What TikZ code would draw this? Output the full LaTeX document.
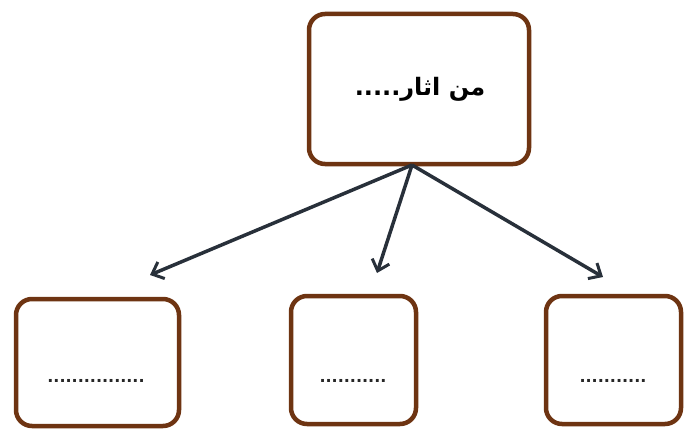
\documentclass[tikz,border=0pt]{standalone}
\usepackage{fontspec}
\setmainfont{DejaVu Sans}
\newfontfamily\arabicfont[Script=Arabic]{DejaVu Sans}
\TeXXeTstate=1
\usetikzlibrary{arrows.meta}
\definecolor{boxbrown}{RGB}{110,52,18}
\definecolor{arrowc}{RGB}{40,48,58}
\tikzset{
  box/.style={draw=boxbrown, line width=4.5pt, rounded corners=16pt, fill=white, inner sep=0pt},
  conn/.style={draw=arrowc, line width=3.5pt, -{Straight Barb[length=10pt,width=18pt,line width=3pt]}},
  dotlbl/.style={font=\bfseries\fontsize{16}{18}\selectfont, text=black!85}
}
\begin{document}
\begin{tikzpicture}[x=1pt,y=-1pt]
\useasboundingbox (0,0) rectangle (687,433);
\node[box, minimum width=220pt, minimum height=150pt] (top) at (419,89) {};
\node[box, minimum width=163pt, minimum height=127pt] (bl) at (97.5,362.5) {};
\node[box, minimum width=125pt, minimum height=128pt] (bm) at (353.5,360) {};
\node[box, minimum width=135pt, minimum height=128pt] (br) at (613.5,360) {};
\node[font=\arabicfont\bfseries\fontsize{24}{28}\selectfont] (toptxt) at (420,89) {\beginR من اثار.....\endR};
\node[dotlbl] (bltxt) at (96,381) {................};
\node[dotlbl] (bmtxt) at (353,381) {...........};
\node[dotlbl] (brtxt) at (613,381) {...........};
\coordinate (src) at (412,165);
\coordinate (eL) at (150,275);
\coordinate (eM) at (377,273);
\coordinate (eR) at (603,277);
\draw[conn] (src) -- (eL);
\draw[conn] (src) -- (eM);
\draw[conn] (src) -- (eR);
\end{tikzpicture}
\end{document}
